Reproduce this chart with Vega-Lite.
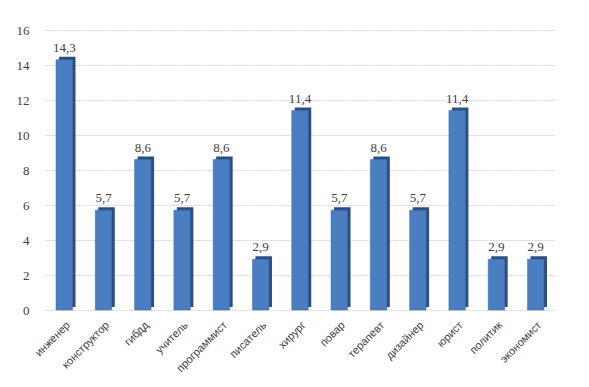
{
  "$schema": "https://vega.github.io/schema/vega-lite/v6.json",
  "autosize": "none",
  "width": 510,
  "height": 280,
  "padding": {"left": 45, "top": 30, "right": 34, "bottom": 77},
  "background": "white",
  "config": {"view": {"stroke": null}, "font": "Liberation Sans"},
  "data": {"values": [
    {"prof": "инженер", "v": 14.3, "lbl": "14,3"},
    {"prof": "конструктор", "v": 5.7, "lbl": "5,7"},
    {"prof": "гибдд", "v": 8.6, "lbl": "8,6"},
    {"prof": "учитель", "v": 5.7, "lbl": "5,7"},
    {"prof": "программист", "v": 8.6, "lbl": "8,6"},
    {"prof": "писатель", "v": 2.9, "lbl": "2,9"},
    {"prof": "хирург", "v": 11.4, "lbl": "11,4"},
    {"prof": "повар", "v": 5.7, "lbl": "5,7"},
    {"prof": "терапевт", "v": 8.6, "lbl": "8,6"},
    {"prof": "дизайнер", "v": 5.7, "lbl": "5,7"},
    {"prof": "юрист", "v": 11.4, "lbl": "11,4"},
    {"prof": "политик", "v": 2.9, "lbl": "2,9"},
    {"prof": "экономист", "v": 2.9, "lbl": "2,9"}
  ]},
  "encoding": {
    "x": {"field": "prof", "type": "nominal", "sort": null,
      "scale": {"paddingInner": 0.58, "paddingOuter": 0.28},
      "axis": {"title": null, "labelAngle": -45, "labelAlign": "right", "labelBaseline": "top", "labelPadding": 9, "labelFontSize": 11, "labelColor": "#404040", "domain": false, "ticks": false}},
    "y": {"field": "v", "type": "quantitative",
      "scale": {"domain": [0, 16]},
      "axis": {"title": null, "values": [0,2,4,6,8,10,12,14,16], "labelFont": "Liberation Serif", "labelFontSize": 13, "labelColor": "#404040", "labelPadding": 16, "domain": false, "ticks": false, "gridColor": "#d4d4d4", "gridDash": [2, 1]}}
  },
  "layer": [
    {"mark": {"type": "bar", "color": "#2b4f80", "xOffset": 3, "yOffset": -3, "y2Offset": -3}},
    {"mark": {"type": "bar", "color": "#4a7ec0", "stroke": "#3a6aa8", "strokeWidth": 0.5}},
    {"mark": {"type": "text", "dy": -12, "fontSize": 13, "font": "Liberation Serif", "color": "#404040"}, "encoding": {"text": {"field": "lbl"}}}
  ]
}
